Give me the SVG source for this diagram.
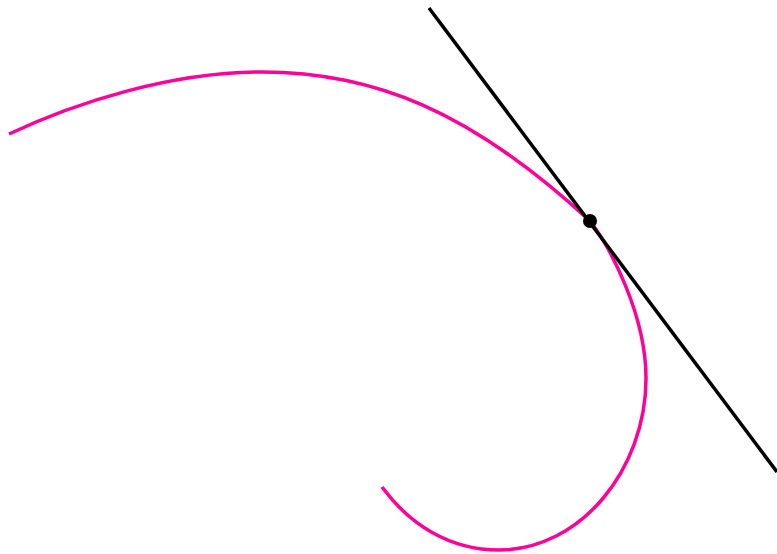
<svg xmlns="http://www.w3.org/2000/svg" width="777" height="554" viewBox="0 0 777 554">
<style>
.curve{fill:none;stroke:#ff0099;stroke-width:3.5;}
.tan{stroke:#000;stroke-width:3.5;}
</style>
<rect width="777" height="554" fill="#fff"/>
<g id="spiral">
<path class="curve" d="M9,134 C75,103 170,72 262,72 C372,72 470,110 590,221 C610,247 646,315 646,378 C646,470 580,550 499,550 C450,550 410,525 382,487"/>
</g>
<g id="connectors">
<line class="tan" x1="429" y1="8" x2="777" y2="472"/>
</g>
<g id="point">
<circle cx="590" cy="221" r="7" fill="#000"/>
</g>
</svg>
